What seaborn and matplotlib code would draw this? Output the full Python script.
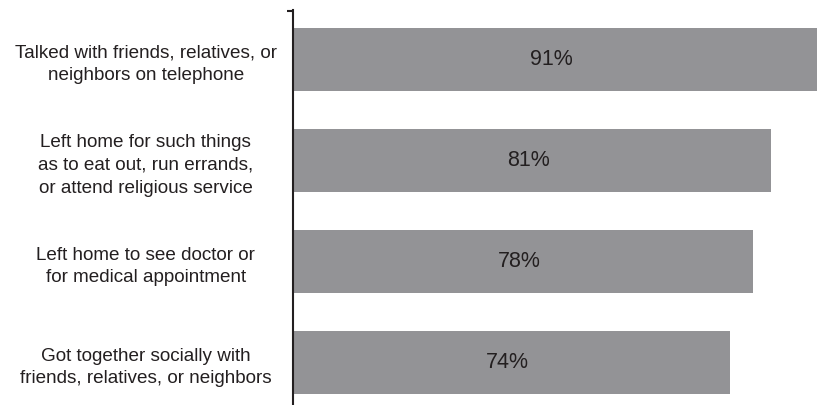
import matplotlib
matplotlib.use("Agg")
import matplotlib.pyplot as plt
import seaborn as sns
import pandas as pd
from matplotlib import font_manager

activities = [
    "Talked with friends, relatives, or\nneighbors on telephone",
    "Left home for such things\nas to eat out, run errands,\nor attend religious service",
    "Left home to see doctor or\nfor medical appointment",
    "Got together socially with\nfriends, relatives, or neighbors",
]
percent = [91, 81, 78, 74]
value_labels = ["91%", "81%", "78%", "74%"]

sns.set_style("white")
names = {f.name for f in font_manager.fontManager.ttflist}
family = "Liberation Sans Narrow" if "Liberation Sans Narrow" in names else "Liberation Sans"
plt.rcParams["font.family"] = [family, "DejaVu Sans"]

df = pd.DataFrame({"activity": activities, "percent": percent})

bar_color = "#939396"
text_color = "#231f20"

fig = plt.figure(figsize=(8.17, 4.05), dpi=100)
ax = fig.add_axes([293 / 817, 0.0, 1 - 293 / 817, 1 - 10 / 405])

sns.barplot(data=df, y="activity", x="percent", orient="h", color=bar_color,
            saturation=1, width=0.62, ax=ax, edgecolor="none")

xmax = 88.8
ax.set_xlim(0, xmax)
ax.set_ylim(3.42, -0.49)

for i, (v, lab) in enumerate(zip(percent, value_labels)):
    ax.text(min(v, xmax) / 2 - 0.6, i, lab, ha="center", va="center",
            fontsize=15.5, color=text_color)

for s in ["top", "right", "bottom"]:
    ax.spines[s].set_visible(False)
ax.spines["left"].set_linewidth(1.5)
ax.spines["left"].set_color(text_color)

ax.set_xticks([])
ax.set_xlabel("")
ax.set_ylabel("")
ax.tick_params(axis="y", which="major", length=0, pad=106)
for t in ax.get_yticklabels():
    t.set_horizontalalignment("center")
    t.set_multialignment("center")
    t.set_fontsize(13.6)
    t.set_color(text_color)
    t.set_linespacing(1.45)

# small tick marking the top of the axis
ax.set_yticks([-0.485], minor=True)
ax.tick_params(axis="y", which="minor", left=True, length=4.5, width=1.5,
               color=text_color)

fig.savefig("out.png", dpi=100)
